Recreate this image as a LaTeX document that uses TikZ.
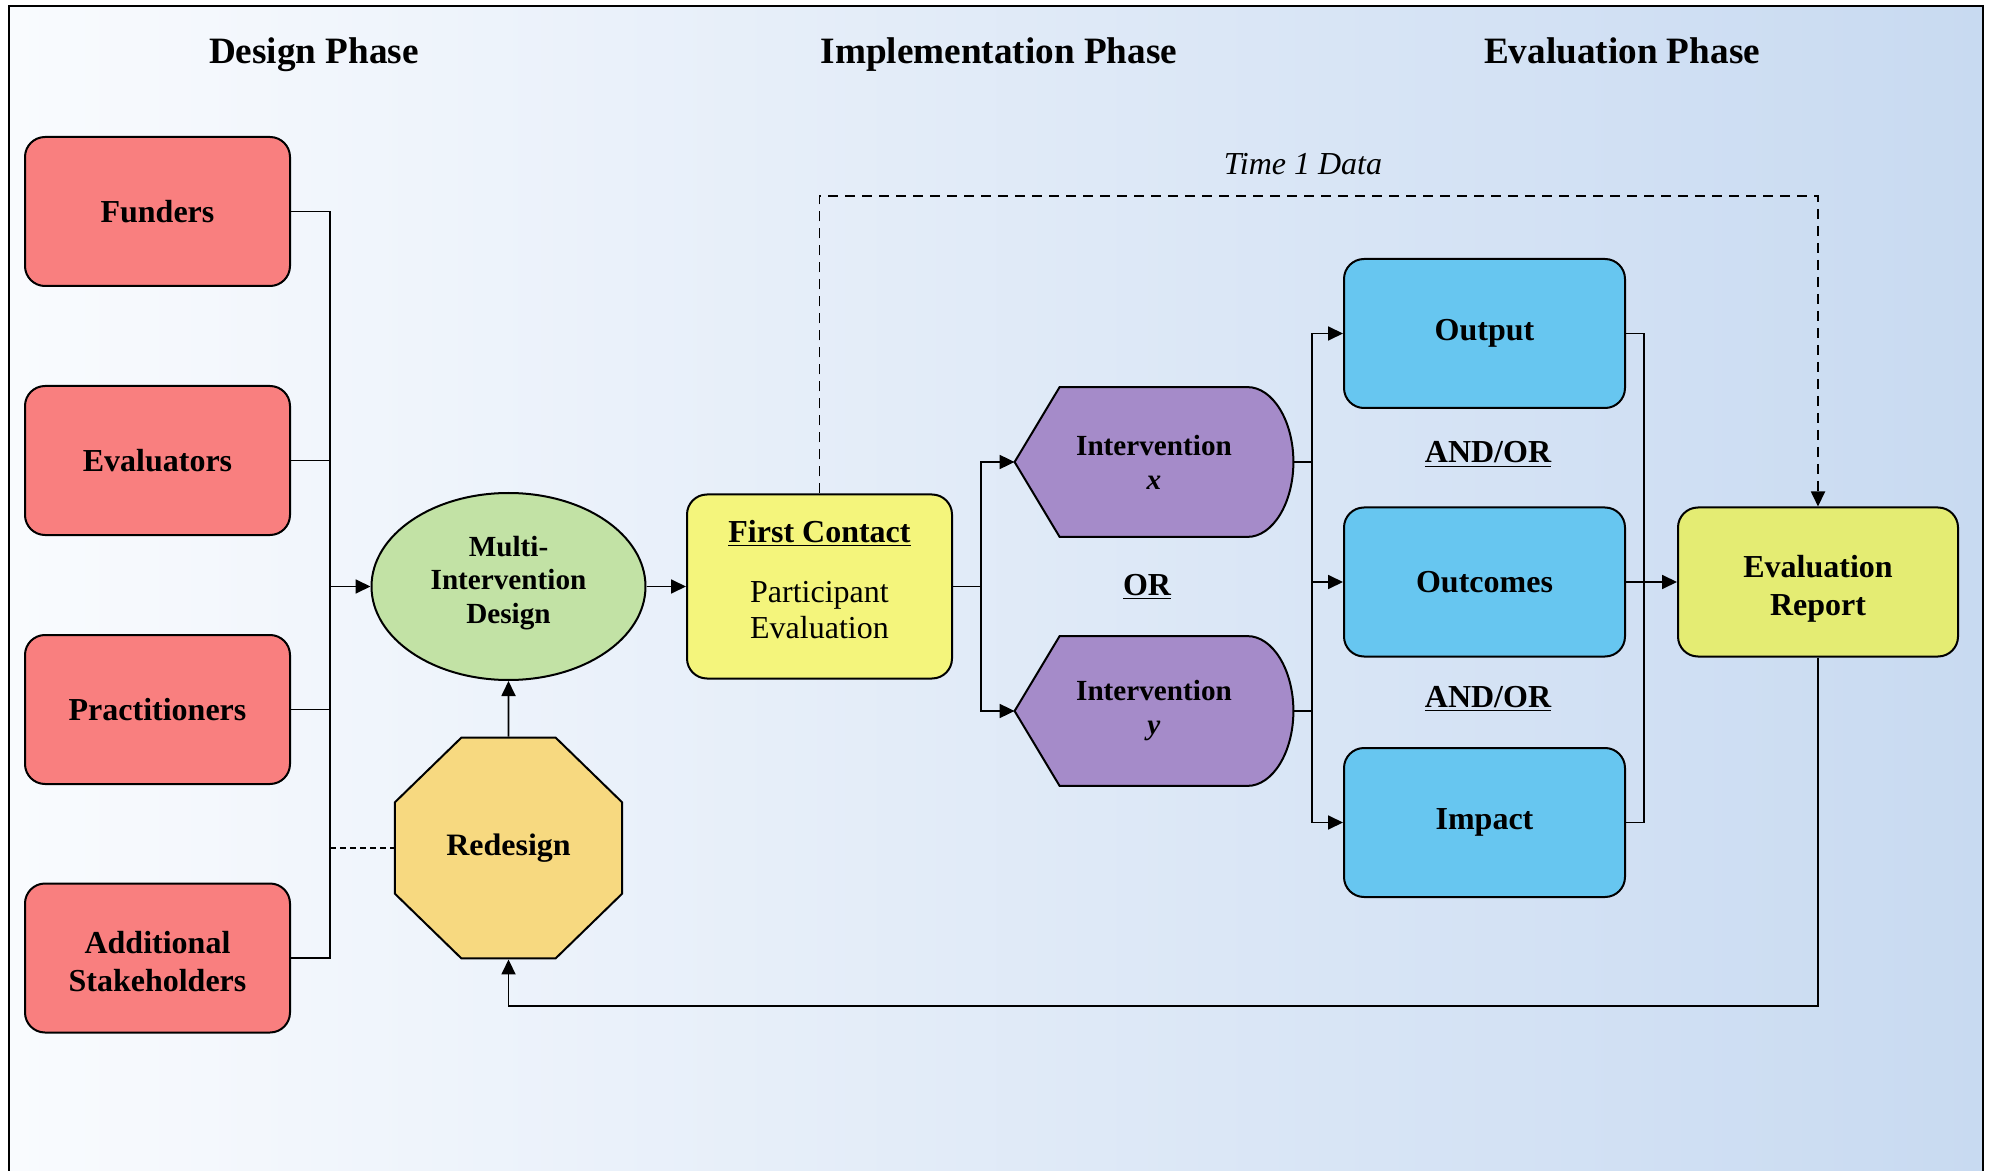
\documentclass[tikz,border=0pt]{standalone}
\usepackage{fontspec}
\setmainfont{Liberation Serif}
\usetikzlibrary{shapes.geometric,arrows.meta,calc,backgrounds}
\definecolor{redc}{HTML}{F97F7F}
\definecolor{greenc}{HTML}{C2E2A5}
\definecolor{fcyel}{HTML}{F4F57C}
\definecolor{rdyel}{HTML}{F7D980}
\definecolor{purc}{HTML}{A58BC9}
\definecolor{bluec}{HTML}{67C6F0}
\definecolor{eryel}{HTML}{E4EC73}
\definecolor{bgl}{HTML}{F9FBFE}
\definecolor{bgr}{HTML}{C8DAF1}
\begin{document}
\begin{tikzpicture}[x=0.5pt,y=-0.5pt,
  bx/.style={rectangle, rounded corners=10pt, draw=black, line width=1pt, inner sep=0pt, align=center,
    font=\fontsize{16}{18.8}\selectfont\bfseries},
  txt/.style={inner sep=0pt, align=center, font=\fontsize{16}{18.8}\selectfont\bfseries},
  stake/.style={bx, fill=redc, minimum width=132.5pt, minimum height=74.5pt},
  bluebox/.style={bx, fill=bluec, minimum width=140.5pt, minimum height=74.5pt},
  interv/.style={rectangle, inner sep=0pt, minimum width=139pt, minimum height=74.5pt, align=center,
    font=\fontsize{14.6}{17}\selectfont\bfseries},
  dshape/.style={draw=black, line width=1pt, fill=purc},
  title/.style={anchor=base, font=\fontsize{18.6}{22}\selectfont\bfseries},
  lbl/.style={anchor=base, font=\fontsize{16}{18.5}\selectfont\bfseries},
  conn/.style={line width=0.9pt},
  arr/.style={conn, -{Triangle[length=7.5pt,width=7pt]}},
  dsh/.style={dash pattern=on 5pt off 3.5pt}
]
\useasboundingbox (0,0) rectangle (1992,1171);
\begin{scope}[on background layer]
  \shade[left color=bgl, right color=bgr] (9,6) rectangle (1983,1171);
\end{scope}
\draw[line width=1pt] (9,1175) -- (9,6) -- (1983,6) -- (1983,1175);

% titles
\node[title] (t1) at (314,64) {Design Phase};
\node[title] (t2) at (999,64) {Implementation Phase};
\node[title] (t3) at (1622,64) {Evaluation Phase};

% stakeholders
\node[stake] (fund) at (157.5,211.5) {Funders};
\node[stake] (evalr) at (157.5,460.5) {Evaluators};
\node[stake] (prac) at (157.5,709.5) {Practitioners};
\node[stake] (addl) at (157.5,958) {};
\node[txt] (addlt) at ($(addl.center)+(0,3.6)$) {Additional\\Stakeholders};

% design
\node[ellipse, draw=black, line width=1pt, fill=greenc, minimum width=137pt, minimum height=93.5pt,
  inner sep=0pt] (mid) at (508.5,586.5) {};
\node[txt, font=\fontsize{14.6}{16.8}\selectfont\bfseries] (midt) at ($(mid.center)+(0,-3.5)$)
  {Multi-\\Intervention\\Design};
\node[regular polygon, regular polygon sides=8, minimum size=122.9pt, inner sep=0pt, draw=black,
  line width=1pt, fill=rdyel, yscale=0.973, font=\fontsize{16}{18.5}\selectfont\bfseries] (rd) at (508.5,848) {Redesign};

% first contact
\node[bx, fill=fcyel, minimum width=132.5pt, minimum height=92pt] (fc) at (819.5,586.5) {};
\node[txt, font=\fontsize{16}{18.4}\selectfont] (fct) at ($(fc.center)+(0,-7)$)
  {\textbf{\underline{First Contact}}\\[11.6pt]Participant\\Evaluation};

% interventions
\node[interv] (ix) at (1154,462) {Intervention\\\textit{x}};
\node[interv] (iy) at (1154,711) {Intervention\\\textit{y}};
\begin{scope}[on background layer]
  \foreach \n in {ix,iy}{
    \draw[dshape] ($(\n.west)+(0,0)$) -- ($(\n.north west)+(45,0)$) -- ($(\n.north east)+(-46,0)$)
      .. controls ($(\n.north east)+(-20.6,0)$) and ($(\n.east)+(0,-41)$) .. (\n.east)
      .. controls ($(\n.east)+(0,41)$) and ($(\n.south east)+(-20.6,0)$) .. ($(\n.south east)+(-46,0)$)
      -- ($(\n.south west)+(45,0)$) -- cycle;
  }
\end{scope}
\node[lbl] (or) at (1147,595) {\underline{OR}};

% outcomes
\node[bluebox] (out) at (1484.5,333.5) {Output};
\node[bluebox] (outc) at (1484.5,582) {Outcomes};
\node[bluebox] (imp) at (1484.5,822.5) {Impact};
\node[lbl] (ao1) at (1488,463) {\underline{AND/OR}};
\node[lbl] (ao2) at (1488,707) {\underline{AND/OR}};

% evaluation report
\node[bx, fill=eryel, minimum width=140pt, minimum height=74.5pt] (er) at (1818,582) {};
\node[txt] (ert) at ($(er.center)+(0,7)$) {Evaluation\\Report};

\node[anchor=center, font=\fontsize{16}{18.5}\selectfont\itshape] (time) at (1303,164) {Time 1 Data};

% helper coordinates
\coordinate (busL) at (330,586.5);
\coordinate (br) at (981,586.5);
\coordinate (b2) at (1312,582);
\coordinate (b3) at (1644,582);
\coordinate (top) at (0,196);
\coordinate (bot) at (0,1006);

% connectors: stakeholders to design
\draw[conn] (fund.east) -| (addl.east -| busL) -- (addl.east);
\draw[conn] (evalr.east) -- (evalr.east -| busL);
\draw[conn] (prac.east) -- (prac.east -| busL);
\draw[arr] (mid.west -| busL) -- (mid.west);
\draw[conn, dash pattern=on 3pt off 2pt] (rd.west -| busL) -- (rd.west);
\draw[arr] (rd.north) -- (mid.south);
\draw[arr] (mid.east) -- (fc.west);

% first contact to interventions
\draw[conn] (fc.east) -- (fc.east -| br);
\draw[arr] (fc.east -| br) |- (ix.west);
\draw[arr] (fc.east -| br) |- (iy.west);

% interventions to outcomes
\draw[conn] (ix.east) -- (ix.east -| b2);
\draw[conn] (iy.east) -- (iy.east -| b2);
\draw[conn] (b2 |- out.west) -- (b2 |- imp.west);
\draw[arr] (b2 |- out.west) -- (out.west);
\draw[arr] (b2 |- outc.west) -- (outc.west);
\draw[arr] (b2 |- imp.west) -- (imp.west);

% outcomes to report
\draw[conn] (out.east) -- (out.east -| b3) -- (imp.east -| b3) -- (imp.east);
\draw[arr] (outc.east) -- (er.west);

% time 1 data
\draw[arr, dsh] (fc.north) -- (fc.north |- top) -| (er.north);

% feedback
\draw[arr] (er.south) -- (er.south |- bot) -| (rd.south);
\end{tikzpicture}
\end{document}
